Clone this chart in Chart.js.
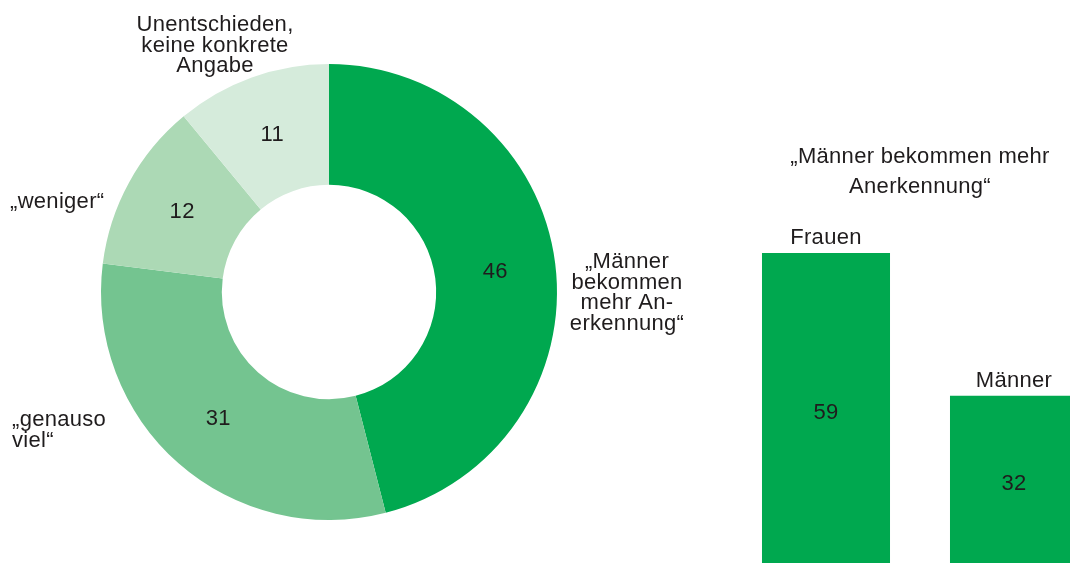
<!DOCTYPE html>
<html>
<head>
<meta charset="utf-8">
<script src="https://cdn.jsdelivr.net/npm/chart.js@4"></script>
<style>
  body { margin: 0; width: 1070px; height: 563px; overflow: hidden; background: #fff; position: relative; }
  #donut { position: absolute; left: 0; top: 0; }
  #bars { position: absolute; left: 732px; top: 0; }
</style>
</head>
<body>
<canvas id="donut" width="730" height="563"></canvas>
<canvas id="bars" width="376" height="570"></canvas>
<script>
// Data
const donutLabels = [
    ['„Männer', 'bekommen', 'mehr An-', 'erkennung“'],
    ['„genauso', 'viel“'],
    ['„weniger“'],
    ['Unentschieden,', 'keine konkrete', 'Angabe']
];
const donutValues = [46, 31, 12, 11];
const donutColors = ['#00a84f', '#74c490', '#acd9b5', '#d5ebdb'];

const barLabels = ['Frauen', 'Männer'];
const barValues = [59, 32];
const barTitle = ['„Männer bekommen mehr', 'Anerkennung“'];

const textColor = '#1f1c1d';
const fontFamily = '"Liberation Sans", Arial, sans-serif';

function setFont(ctx, size) {
    ctx.font = size + 'px ' + fontFamily;
    ctx.fillStyle = textColor;
    ctx.letterSpacing = '0.3px';
}

// outer label placement relative to the doughnut centre
const outerLabelLayout = [
    { align: 'center', dx: 298, dy: -24 },
    { align: 'left', dx: -317, dy: 134 },
    { align: 'left', dx: -319, dy: -84 },
    { align: 'center', dx: -114, dy: -261 }
];

const donutLabelPlugin = {
    id: 'donutLabels',
    afterDatasetsDraw(chart) {
        const ctx = chart.ctx;
        const arcs = chart.getDatasetMeta(0).data;
        ctx.save();
        arcs.forEach(function(arc, i) {
            const p = arc.getProps(['x', 'y', 'startAngle', 'endAngle', 'innerRadius', 'outerRadius'], true);
            const mid = (p.startAngle + p.endAngle) / 2;
            const r = (p.innerRadius + p.outerRadius) / 2;
            setFont(ctx, 22);
            ctx.textAlign = 'center';
            ctx.textBaseline = 'middle';
            ctx.fillText(String(donutValues[i]), p.x + Math.cos(mid) * r, p.y + Math.sin(mid) * r + 1);

            const lay = outerLabelLayout[i];
            ctx.textAlign = lay.align;
            ctx.textBaseline = 'alphabetic';
            donutLabels[i].forEach(function(line, j) {
                ctx.fillText(line, p.x + lay.dx, p.y + lay.dy + j * 20.7);
            });
        });
        ctx.restore();
    }
};

new Chart(document.getElementById('donut').getContext('2d'), {
    type: 'doughnut',
    data: {
        labels: donutLabels.map(l => l.join(' ')),
        datasets: [{
            data: donutValues,
            backgroundColor: donutColors,
            borderWidth: 0
        }]
    },
    options: {
        responsive: false,
        animation: false,
        cutout: '47%',
        layout: { padding: { left: 101, top: 64, right: 173, bottom: 43 } },
        plugins: { legend: { display: false }, tooltip: { enabled: false } }
    },
    plugins: [donutLabelPlugin]
});

const barLabelPlugin = {
    id: 'barLabels',
    afterDatasetsDraw(chart) {
        const ctx = chart.ctx;
        const area = chart.chartArea;
        const bars = chart.getDatasetMeta(0).data;
        ctx.save();
        setFont(ctx, 22);
        ctx.textAlign = 'center';
        ctx.textBaseline = 'alphabetic';
        const cx = (area.left + area.right) / 2;
        ctx.fillText(barTitle[0], cx, 163);
        ctx.fillText(barTitle[1], cx, 193);
        bars.forEach(function(bar, i) {
            ctx.textBaseline = 'alphabetic';
            ctx.fillText(barLabels[i], bar.x, bar.y - 9);
            ctx.textBaseline = 'middle';
            ctx.fillText(String(barValues[i]), bar.x, (bar.y + bar.base) / 2 + 4);
        });
        ctx.restore();
    }
};

new Chart(document.getElementById('bars').getContext('2d'), {
    type: 'bar',
    data: {
        labels: barLabels,
        datasets: [{
            data: barValues,
            backgroundColor: '#00a84f',
            borderWidth: 0,
            barPercentage: 0.681,
            categoryPercentage: 1
        }]
    },
    options: {
        responsive: false,
        animation: false,
        layout: { padding: { left: 0, right: 0, top: 36, bottom: 5 } },
        scales: {
            x: { display: false },
            y: { display: false, min: 0, max: 100 }
        },
        plugins: { legend: { display: false }, tooltip: { enabled: false } }
    },
    plugins: [barLabelPlugin]
});
</script>
</body>
</html>
